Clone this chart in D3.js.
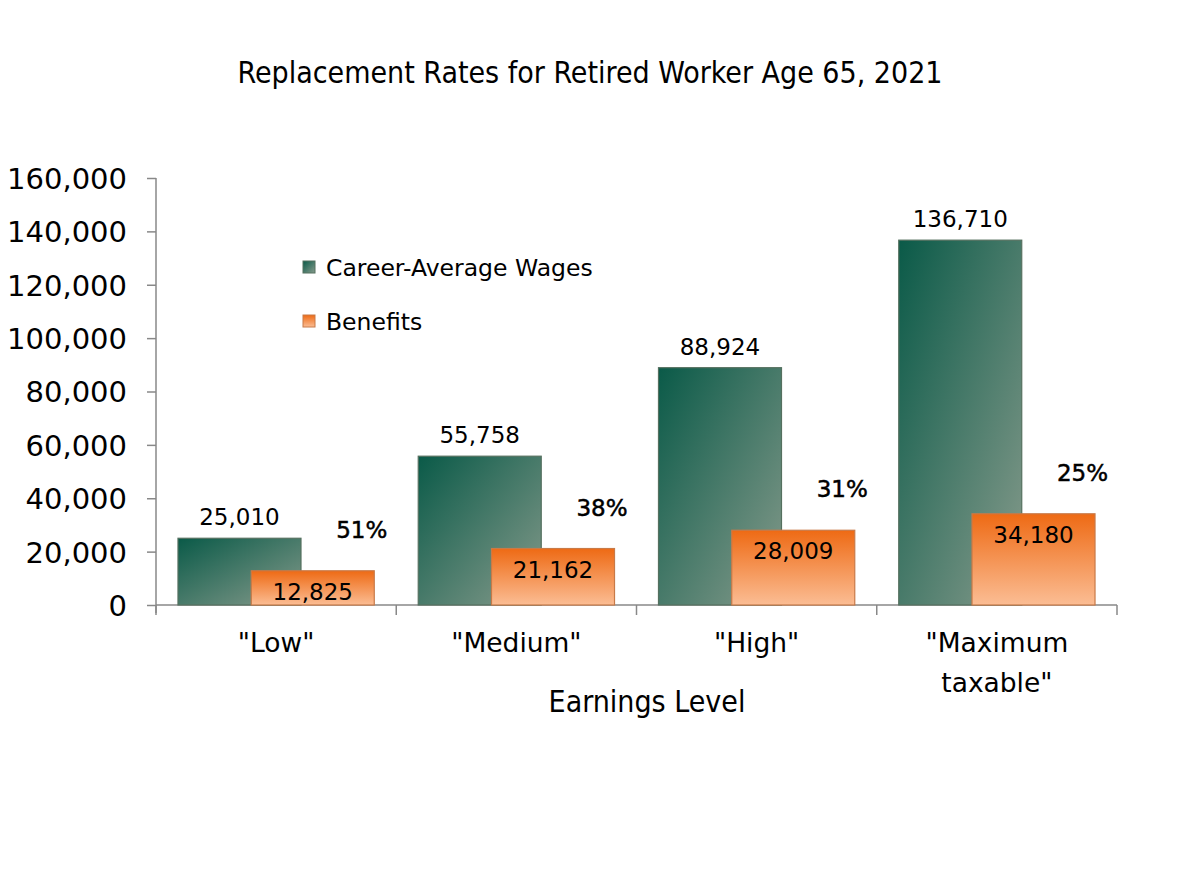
<!DOCTYPE html>
<html><head><meta charset="utf-8">
<script src="https://cdn.jsdelivr.net/npm/d3@7"></script>
<style>body{margin:0;background:#fff}svg{display:block}</style>
</head><body>
<svg id="c" width="1200" height="895"></svg>
<script>
const categories = ['"Low"', '"Medium"', '"High"', '"Maximum taxable"'];
const wages = [25010, 55758, 88924, 136710];
const benefits = [12825, 21162, 28009, 34180];
const rates = ["51%", "38%", "31%", "25%"];
const yTicks = [0, 20000, 40000, 60000, 80000, 100000, 120000, 140000, 160000];
const seriesNames = ["Career-Average Wages", "Benefits"];
const title = "Replacement Rates for Retired Worker Age 65, 2021";
const xTitle = "Earnings Level";

const svg = d3.select("#c");
const M = {l:156, r:1117, t:178, b:605};
const x = d3.scaleBand().domain(categories).range([M.l, M.r]).paddingInner(0).paddingOuter(0);
const y = d3.scaleLinear().domain([0,160000]).range([M.b, M.t]);
const fmt = d3.format(",");
const font = "'DejaVu Sans', sans-serif";
const narrow = "'Liberation Sans Narrow','DejaVu Sans Condensed', sans-serif";

const defs = svg.append("defs");
const gG = defs.append("linearGradient").attr("id","gGreen").attr("x1","0").attr("y1","0").attr("x2","1").attr("y2","1");
gG.append("stop").attr("offset","0").attr("stop-color","#0a5a48");
gG.append("stop").attr("offset","1").attr("stop-color","#879b8c");
const gO = defs.append("linearGradient").attr("id","gOrange").attr("x1","0").attr("y1","0").attr("x2","0").attr("y2","1");
gO.append("stop").attr("offset","0").attr("stop-color","#ee6a14");
gO.append("stop").attr("offset","1").attr("stop-color","#fbbd94");

// Title
svg.append("text").attr("x",590).attr("y",83).attr("text-anchor","middle")
  .attr("font-family",narrow).attr("font-size",30).attr("fill","#000").text(title);

// Y axis
const yAxis = svg.append("g").attr("transform",`translate(${M.l},0)`)
  .call(d3.axisLeft(y).tickValues(yTicks).tickFormat(fmt).tickSize(9).tickPadding(20));
yAxis.select(".domain").attr("stroke","#888").attr("stroke-width",1.5).attr("d",`M0,${M.t}V${M.b+8}`);
yAxis.selectAll(".tick line").attr("stroke","#888").attr("stroke-width",1.5);
yAxis.selectAll(".tick text").attr("font-family",font).attr("font-size",29).attr("fill","#000").attr("dy","0.36em");

// X axis
const xg = svg.append("g").attr("transform",`translate(0,${M.b})`);
xg.append("line").attr("x1",M.l).attr("x2",M.r).attr("stroke","#888").attr("stroke-width",1.5);
const bounds = categories.map(c=>x(c)).concat([M.r]);
xg.selectAll("line.tk").data(bounds).join("line").attr("class","tk")
  .attr("x1",d=>d).attr("x2",d=>d).attr("y1",0).attr("y2",10).attr("stroke","#888").attr("stroke-width",1.5);
categories.forEach(c=>{
  const words = c === '"Maximum taxable"' ? ['"Maximum','taxable"'] : [c];
  const t = xg.append("text").attr("text-anchor","middle").attr("font-family",font).attr("font-size",26.5).attr("fill","#000");
  words.forEach((w,i)=>t.append("tspan").attr("x",x(c)+x.bandwidth()/2).attr("y",47+i*40).text(w));
});
svg.append("text").attr("x",647).attr("y",712).attr("text-anchor","middle")
  .attr("font-family",narrow).attr("font-size",30).attr("fill","#000").text(xTitle);

// Bars
const bw = x.bandwidth()*0.512;
const inset = x.bandwidth()*0.0915;
const gx = c => x(c)+inset;
const ox = c => x(c)+x.bandwidth()-inset-bw;

svg.append("g").selectAll("rect").data(categories).join("rect")
  .attr("x",gx).attr("y",(c,i)=>y(wages[i])).attr("width",bw).attr("height",(c,i)=>y(0)-y(wages[i]))
  .attr("fill","url(#gGreen)").attr("stroke","#55705f").attr("stroke-width",1.2);
svg.append("g").selectAll("rect").data(categories).join("rect")
  .attr("x",ox).attr("y",(c,i)=>y(benefits[i])).attr("width",bw).attr("height",(c,i)=>y(0)-y(benefits[i]))
  .attr("fill","url(#gOrange)").attr("stroke","#c87a48").attr("stroke-width",1.2);

// Labels
svg.append("g").selectAll("text").data(categories).join("text")
  .attr("x",c=>gx(c)+bw/2).attr("y",(c,i)=>y(wages[i])-13).attr("text-anchor","middle")
  .attr("font-family",font).attr("font-size",23).attr("fill","#000").text((c,i)=>fmt(wages[i]));
svg.append("g").selectAll("text").data(categories).join("text")
  .attr("x",c=>ox(c)+bw/2).attr("y",(c,i)=>y(benefits[i])+29).attr("text-anchor","middle")
  .attr("font-family",font).attr("font-size",23).attr("fill","#000").text((c,i)=>fmt(benefits[i]));
svg.append("g").selectAll("text").data(categories).join("text")
  .attr("x",c=>ox(c)+bw/2+49).attr("y",(c,i)=>y(benefits[i])-33).attr("text-anchor","middle")
  .attr("font-family",font).attr("font-size",23).attr("fill","#000")
  .attr("stroke","#000").attr("stroke-width",0.5).text((c,i)=>rates[i]);

// Legend
const lg = svg.append("g");
const fills = ["url(#gGreen)","url(#gOrange)"];
seriesNames.forEach((n,i)=>{
  lg.append("rect").attr("x",303).attr("y",261+i*54).attr("width",12).attr("height",12)
    .attr("fill",fills[i]).attr("stroke",i?"#c87a48":"#55705f");
  lg.append("text").attr("x",326).attr("y",276+i*54).attr("font-family",font).attr("font-size",23.5)
    .attr("fill","#000").text(n);
});
</script>
</body></html>
